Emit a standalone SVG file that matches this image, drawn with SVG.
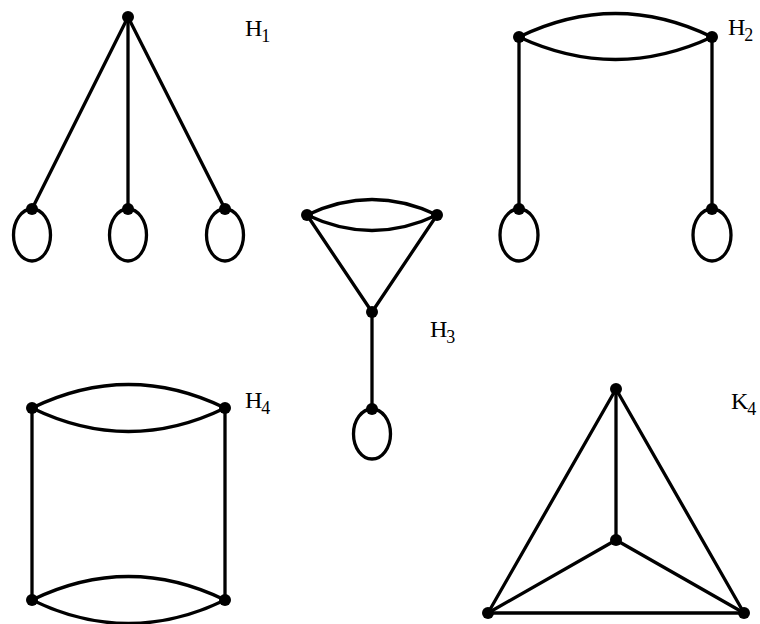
<svg xmlns="http://www.w3.org/2000/svg" width="760" height="624" viewBox="0 0 760 624">
<style>
.e{fill:none;stroke:#000;stroke-width:3.3;stroke-linecap:round}
.n{fill:#000}
.t{font-family:"Liberation Serif","Times New Roman",serif;font-size:24px;fill:#000}
.s{font-size:18px}
</style>
<rect width="760" height="624" fill="#fff"/>
<g id="connectors">
<!-- H1 -->
<line class="e" x1="128" y1="17" x2="32" y2="209"/>
<line class="e" x1="128" y1="17" x2="128" y2="209"/>
<line class="e" x1="128" y1="17" x2="225" y2="209"/>
<ellipse class="e" cx="32" cy="235" rx="18.5" ry="26"/>
<ellipse class="e" cx="128" cy="235" rx="18.5" ry="26"/>
<ellipse class="e" cx="225" cy="235" rx="18.5" ry="26"/>
<!-- H2 -->
<path class="e" d="M519,37 Q615.5,-10 712,37"/>
<path class="e" d="M519,37 Q615.5,82 712,37"/>
<line class="e" x1="519" y1="37" x2="519" y2="209"/>
<line class="e" x1="712" y1="37" x2="712" y2="209"/>
<ellipse class="e" cx="519" cy="235" rx="19" ry="26"/>
<ellipse class="e" cx="712" cy="235" rx="19" ry="26"/>
<!-- H3 -->
<path class="e" d="M307,215 Q372,184 437,215"/>
<path class="e" d="M307,215 Q372,246 437,215"/>
<line class="e" x1="307" y1="215" x2="372" y2="312"/>
<line class="e" x1="437" y1="215" x2="372" y2="312"/>
<line class="e" x1="372" y1="312" x2="372" y2="409"/>
<ellipse class="e" cx="372" cy="434" rx="18.5" ry="25"/>
<!-- H4 -->
<path class="e" d="M32,408 Q128.5,361 225,408"/>
<path class="e" d="M32,408 Q128.5,455 225,408"/>
<path class="e" d="M32,600 Q128.5,553 225,600"/>
<path class="e" d="M32,600 Q128.5,647 225,600"/>
<line class="e" x1="32" y1="408" x2="32" y2="600"/>
<line class="e" x1="225" y1="408" x2="225" y2="600"/>
<!-- K4 -->
<line class="e" x1="616" y1="389" x2="488" y2="613"/>
<line class="e" x1="616" y1="389" x2="744" y2="613"/>
<line class="e" x1="616" y1="389" x2="616" y2="540"/>
<line class="e" x1="616" y1="540" x2="488" y2="613"/>
<line class="e" x1="616" y1="540" x2="744" y2="613"/>
<line class="e" x1="488" y1="613" x2="744" y2="613"/>
</g>
<g id="H1">
<circle class="n" cx="128" cy="17" r="6"/>
<circle class="n" cx="32" cy="209" r="6"/>
<circle class="n" cx="128" cy="209" r="6"/>
<circle class="n" cx="225" cy="209" r="6"/>
<text class="t" x="245" y="36">H<tspan class="s" dx="-1" dy="6">1</tspan></text>
</g>
<g id="H2">
<circle class="n" cx="519" cy="37" r="6"/>
<circle class="n" cx="712" cy="37" r="6"/>
<circle class="n" cx="519" cy="209" r="6"/>
<circle class="n" cx="712" cy="209" r="6"/>
<text class="t" x="728" y="35">H<tspan class="s" dx="-1" dy="6">2</tspan></text>
</g>
<g id="H3">
<circle class="n" cx="307" cy="215" r="6"/>
<circle class="n" cx="437" cy="215" r="6"/>
<circle class="n" cx="372" cy="312" r="6"/>
<circle class="n" cx="372" cy="409" r="6"/>
<text class="t" x="430" y="337">H<tspan class="s" dx="-1" dy="6">3</tspan></text>
</g>
<g id="H4">
<circle class="n" cx="32" cy="408" r="6"/>
<circle class="n" cx="225" cy="408" r="6"/>
<circle class="n" cx="32" cy="600" r="6"/>
<circle class="n" cx="225" cy="600" r="6"/>
<text class="t" x="245" y="408">H<tspan class="s" dx="-1" dy="6">4</tspan></text>
</g>
<g id="K4">
<circle class="n" cx="616" cy="389" r="6"/>
<circle class="n" cx="616" cy="540" r="6"/>
<circle class="n" cx="488" cy="613" r="6"/>
<circle class="n" cx="744" cy="613" r="6"/>
<text class="t" x="731" y="409">K<tspan class="s" dx="-1" dy="6">4</tspan></text>
</g>
</svg>
